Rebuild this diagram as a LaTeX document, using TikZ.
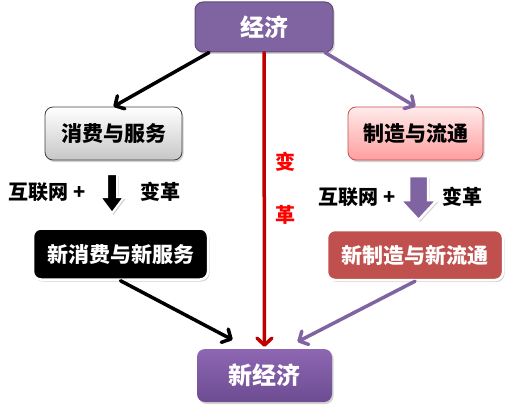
\documentclass[tikz,border=0pt]{standalone}
\usepackage{fontspec}
\setmainfont{Noto Sans CJK SC}
\usetikzlibrary{arrows.meta,shadows,calc}
\definecolor{pur}{HTML}{8064A2}
\definecolor{purd}{HTML}{5F4B7A}
\definecolor{purl}{HTML}{8E67B3}
\definecolor{purb}{HTML}{6D4C92}
\definecolor{redd}{HTML}{C00000}
\definecolor{brick}{HTML}{C0504D}
\begin{document}
\begin{tikzpicture}[x=1pt,y=-1pt,
  box/.style={rounded corners=8pt,inner sep=0pt,font=\bfseries,align=center},
  shad/.style={drop shadow={opacity=0.35,shadow xshift=1.5pt,shadow yshift=-2pt}},
  lbl/.style={font=\bfseries\fontsize{20}{22}\selectfont,inner sep=0pt},
  conn/.style={line width=3.5pt,-{Straight Barb[length=7pt,width=15pt,line cap=round,line join=round]},line cap=round}
]
\useasboundingbox (0,0) rectangle (513,409);
\node[box,shad,draw=purd,line width=1pt,fill=pur,text=white,minimum width=138pt,minimum height=50pt,
  font=\bfseries\fontsize{24}{26}\selectfont] (jj) at (264,27) {经济};
\node[box,shad,draw=black!75,line width=0.8pt,top color=white,bottom color=black!22,minimum width=137pt,minimum height=53pt,
  font=\bfseries\fontsize{21}{23}\selectfont] (xf) at (113.5,133.5) {消费与服务};
\node[box,shad,draw=brick,line width=0.8pt,top color=red!8,bottom color=red!38,minimum width=135pt,minimum height=53pt,
  font=\bfseries\fontsize{21}{23}\selectfont] (zz) at (415.5,133.5) {制造与流通};
\node[box,shad,draw=white,line width=2.5pt,fill=black,text=white,minimum width=175pt,minimum height=51pt,
  font=\bfseries\fontsize{21}{23}\selectfont] (nxf) at (120.5,254) {新消费与新服务};
\node[box,shad,draw=white,line width=2.5pt,fill=brick,text=white,minimum width=176pt,minimum height=50pt,
  font=\bfseries\fontsize{21}{23}\selectfont] (nzz) at (415,255) {新制造与新流通};
\node[box,shad,draw=none,top color=purl,bottom color=purb,text=white,minimum width=135pt,minimum height=53pt,
  font=\bfseries\fontsize{24}{26}\selectfont] (xjj) at (264.5,375.5) {新经济};
% labels
\node[lbl] (l1) at (47,192) {互联网 +};
\node[lbl] (l2) at (160,192) {变革};
\node[lbl] (l3) at (357,197) {互联网 +};
\node[lbl] (l4) at (462,197) {变革};
\node[lbl,text=red] (v1) at (285,162) {变};
\node[lbl,text=red] (v2) at (285,215) {革};
% block arrows
\draw[white,line width=2pt,fill=black,line join=miter,shad]
  (107,174) -- (117,174) -- (117,197) -- (124,197) -- (112,213) -- (100,197) -- (107,197) -- cycle;
\draw[white,line width=2.5pt,fill=pur,line join=miter,shad]
  (409,176) -- (428,176) -- (428,200) -- (437,200) -- (418.5,220) -- (400,200) -- (409,200) -- cycle;
% connectors
\draw[conn,black] ([xshift=-55pt]jj.south) -- (xf.north);
\draw[conn,pur] ([xshift=61pt]jj.south) -- (zz.north);
\draw[conn,black] (nxf.south) -- ([xshift=-32pt,yshift=9pt]xjj.north);
\draw[conn,pur] (nzz.south) -- ([xshift=33pt,yshift=7pt]xjj.north);
\draw[conn,redd] (jj.south) -- ([yshift=2pt]xjj.north);
\end{tikzpicture}
\end{document}
